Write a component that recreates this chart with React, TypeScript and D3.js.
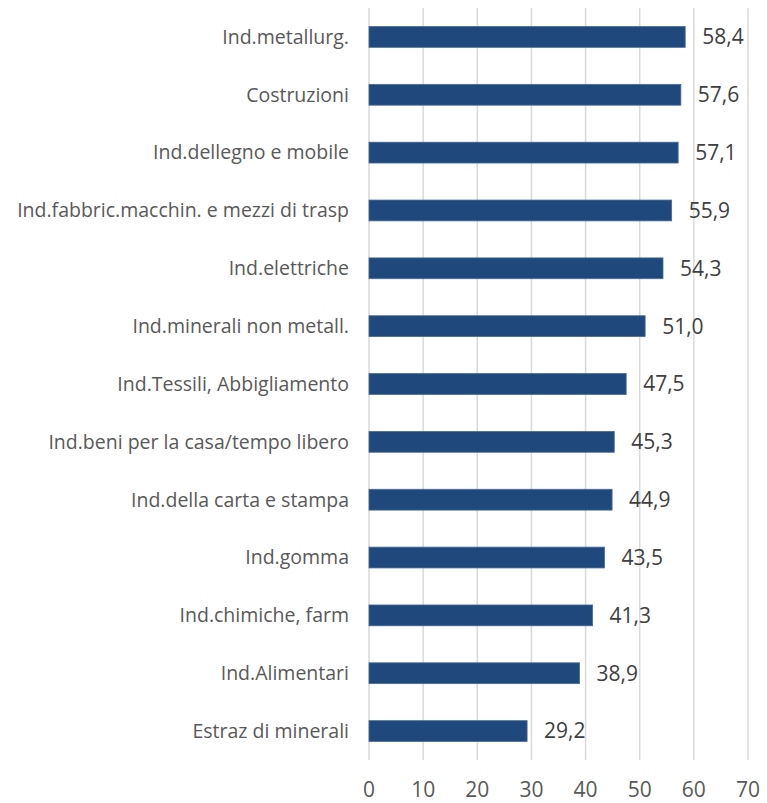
import { useEffect, useRef } from "react";
import * as d3 from "d3";

const categories = [
  "Ind.metallurg.",
  "Costruzioni",
  "Ind.dellegno e mobile",
  "Ind.fabbric.macchin. e mezzi di trasp",
  "Ind.elettriche",
  "Ind.minerali non metall.",
  "Ind.Tessili, Abbigliamento",
  "Ind.beni per la casa/tempo libero",
  "Ind.della carta e stampa",
  "Ind.gomma",
  "Ind.chimiche, farm",
  "Ind.Alimentari",
  "Estraz di minerali",
];

const values = [58.4, 57.6, 57.1, 55.9, 54.3, 51.0, 47.5, 45.3, 44.9, 43.5, 41.3, 38.9, 29.2];

const xTicks = [0, 10, 20, 30, 40, 50, 60, 70];

const App = () => {
  const svgRef = useRef<SVGSVGElement>(null);

  useEffect(() => {
    const svg = d3.select(svgRef.current);
    svg.selectAll("*").remove();

    const left = 369;
    const right = 748;
    const top = 8;
    const bottom = 760;

    const x = d3.scaleLinear().domain([0, 70]).range([left, right]);
    const y = d3
      .scaleBand()
      .domain(categories)
      .range([top, bottom])
      .paddingInner(0.64)
      .paddingOuter(0.32);

    // gridlines
    svg
      .append("g")
      .selectAll("line")
      .data(xTicks)
      .enter()
      .append("line")
      .attr("x1", (d) => x(d))
      .attr("x2", (d) => x(d))
      .attr("y1", top)
      .attr("y2", bottom)
      .attr("stroke", "#d9d9d9")
      .attr("stroke-width", 1.5);

    // bars
    svg
      .append("g")
      .selectAll("rect")
      .data(values)
      .enter()
      .append("rect")
      .attr("x", x(0))
      .attr("y", (_, i) => y(categories[i])!)
      .attr("width", (d) => x(d) - x(0))
      .attr("height", y.bandwidth())
      .attr("fill", "#1f497d")
      .attr("stroke", "#4a6c96")
      .attr("stroke-width", 0.8);

    // value labels
    svg
      .append("g")
      .selectAll("text")
      .data(values)
      .enter()
      .append("text")
      .attr("x", (d) => x(d) + 17)
      .attr("y", (_, i) => y(categories[i])! + y.bandwidth() / 2)
      .attr("dy", "0.35em")
      .attr("font-family", "Open Sans, sans-serif")
      .attr("font-size", 21)
      .attr("fill", "#404040")
      .text((d) => d.toFixed(1).replace(".", ","));

    // category labels
    svg
      .append("g")
      .selectAll("text")
      .data(categories)
      .enter()
      .append("text")
      .attr("x", 349)
      .attr("y", (d) => y(d)! + y.bandwidth() / 2)
      .attr("dy", "0.35em")
      .attr("text-anchor", "end")
      .attr("font-family", "Open Sans, sans-serif")
      .attr("font-size", 19.5)
      .attr("fill", "#595959")
      .text((d) => d);

    // x tick labels
    svg
      .append("g")
      .selectAll("text")
      .data(xTicks)
      .enter()
      .append("text")
      .attr("x", (d) => x(d))
      .attr("y", 797)
      .attr("text-anchor", "middle")
      .attr("font-family", "Open Sans, sans-serif")
      .attr("font-size", 21)
      .attr("fill", "#595959")
      .text((d) => d);
  }, []);

  return (
    <svg
      ref={svgRef}
      width={767}
      height={803}
      style={{ position: "absolute", left: 0, top: 0, background: "#fff" }}
    ></svg>
  );
};

export default App;
